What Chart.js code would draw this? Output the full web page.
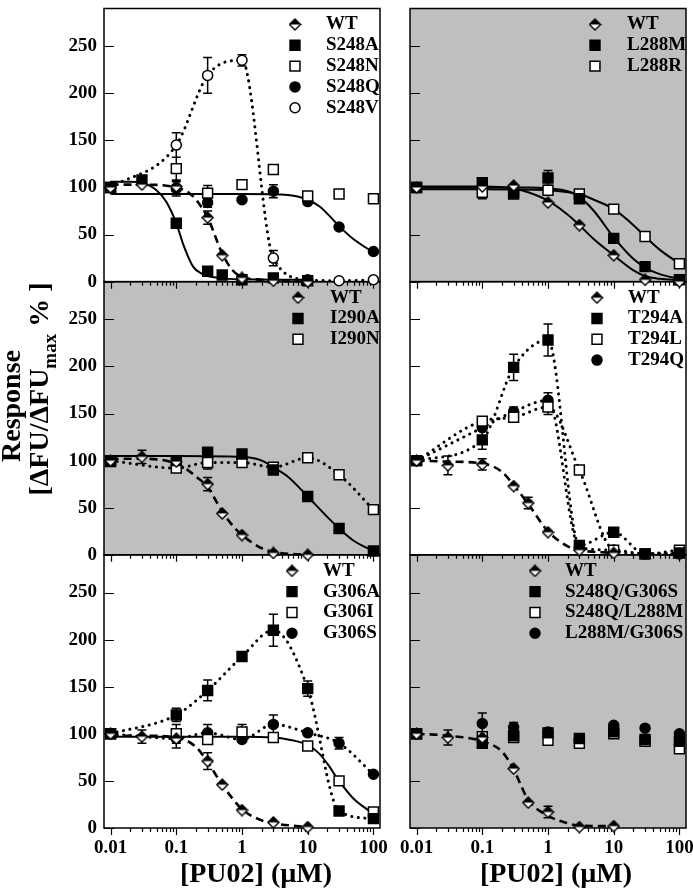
<!DOCTYPE html>
<html>
<head>
<meta charset="utf-8">
<title>PU02 concentration response</title>
<script src="https://cdn.jsdelivr.net/npm/chart.js@4.4.1/dist/chart.umd.min.js"></script>
<style>
  html, body { margin: 0; padding: 0; background: #fff; }
  #figure { position: relative; width: 693px; height: 890px; overflow: hidden; }
  #figure canvas { position: absolute; top: 0; }
  #leftCol { left: 0; }
  #rightCol { left: 400px; }
</style>
</head>
<body>
<div id="figure">
  <canvas id="leftCol" width="392" height="890"></canvas>
  <canvas id="rightCol" width="310" height="890"></canvas>
</div>
<script>
// Axes
const X_MIN = Math.pow(10, -2.1);
const X_MAX = Math.pow(10, 2.1);
const Y_MAX = 290;
const xTickLabels = [0.01, 0.1, 1, 10, 100];
const yTickValues = [0, 50, 100, 150, 200, 250];

// Concentrations (uM)
const concWT = [0.01, 0.03, 0.1, 0.3, 0.5, 1, 3, 10];
const conc = [0.01, 0.1, 0.3, 1, 3, 10, 30, 100];
const concS248A = [0.01, 0.03, 0.1, 0.3, 0.5, 1, 3, 10];

// Panel 1: S248 mutants
const p1WT = [100, 103, 101, 68, 28, 4, 1, 0];
const p1WTErr = [0, 0, 5, 7, 0, 0, 0, 0];
const p1S248A = [100, 108, 62, 11, 7, 2, 4, 1];
const p1S248AErr = [5, 0, 0, 0, 0, 0, 0, 0];
const p1S248N = [100, 120, 94, 103, 119, 91, 93, 88];
const p1S248NErr = [0, 12, 8, 0, 0, 0, 4, 0];
const p1S248Q = [100, 99, 84, 87, 96, 85, 58, 32];
const p1S248QErr = [0, 8, 5, 0, 7, 0, 0, 0];
const p1S248V = [100, 145, 219, 235, 25, 2, 1, 2];
const p1S248VErr = [0, 13, 19, 6, 8, 0, 0, 0];
const fitX1WT = [0.01, 0.03, 0.1, 0.15, 0.2, 0.3, 0.5, 0.7, 1, 2, 3, 10];
const fitY1WT = [103, 103, 100, 95, 87, 68, 30, 13, 5, 2, 1, 0];
const fitX1A = [0.01, 0.02, 0.03, 0.05, 0.07, 0.1, 0.13, 0.18, 0.25, 0.3, 0.5, 1, 3, 10];
const fitY1A = [106, 106, 105, 97, 85, 62, 38, 16, 8, 6, 3.5, 2.5, 2, 2];
const fitX1Q = [0.01, 1, 3, 5, 7, 10, 15, 20, 30, 50, 100];
const fitY1Q = [93, 93, 92.8, 92, 90.5, 87, 80, 72, 59, 45, 31];

// Panel 2: L288 mutants
const p2WT = [100, 101, 102, 84, 60, 28, 2, 0];
const p2L288M = [100, 105, 93, 110, 88, 46, 16, 2];
const p2L288MErr = [0, 0, 4, 8, 0, 0, 0, 0];
const p2L288R = [100, 95, 95, 97, 93, 77, 48, 19];
const p2L288RErr = [0, 7, 0, 0, 0, 0, 0, 0];
const fitX2WT = [0.01, 0.1, 0.3, 0.5, 1, 2, 3, 5, 10, 20, 30, 50, 100];
const fitY2WT = [101, 101, 99, 95, 86, 71, 60, 45, 28, 12, 6, 3, 1.5];
const fitX2M = [0.01, 0.1, 0.5, 1, 2, 3, 5, 10, 20, 30, 50, 100];
const fitY2M = [100, 100, 100, 99, 96, 90, 75, 47, 24, 15, 8, 3];
const fitX2R = [0.01, 0.1, 1, 2, 3, 5, 10, 20, 30, 50, 100];
const fitY2R = [98, 98, 97, 95, 93, 87, 77, 60, 48, 34, 19];

// Panel 3: I290 mutants
const p3WT = [100, 104, 99, 75, 44, 21, 2, 0];
const p3WTErr = [0, 7, 5, 7, 0, 0, 0, 0];
const p3I290A = [99, 100, 109, 107, 90, 62, 28, 4];
const p3I290AErr = [0, 5, 0, 0, 0, 0, 0, 0];
const p3I290N = [100, 92, 98, 98, 93, 103, 85, 48];
const p3I290NErr = [0, 0, 7, 0, 0, 0, 0, 0];
const fitX3WT = [0.01, 0.03, 0.1, 0.15, 0.2, 0.3, 0.5, 0.7, 1, 2, 3, 10];
const fitY3WT = [102, 102, 97, 90, 83, 72, 46, 32, 21, 7, 3, 0];
const fitX3A = [0.01, 0.1, 1, 2, 3, 5, 10, 20, 30, 50, 100];
const fitY3A = [105, 105, 104, 100, 93, 83, 62, 40, 28, 15, 4];

// Panel 4: T294 mutants
const p4WT = [100, 95, 96, 73, 55, 24, 5, 2];
const p4WTErr = [0, 10, 6, 0, 6, 0, 0, 0];
const p4T294A = [100, 122, 199, 228, 10, 24, 1, 2];
const p4T294AErr = [0, 10, 14, 17, 0, 0, 0, 0];
const p4T294L = [100, 142, 146, 157, 90, 5, 1, 5];
const p4T294LErr = [0, 0, 5, 8, 0, 0, 0, 0];
const p4T294Q = [100, 135, 152, 164, 8, 5, 1, 1];
const p4T294QErr = [0, 0, 5, 8, 0, 0, 0, 0];
const fitX4WT = [0.01, 0.03, 0.1, 0.2, 0.3, 0.5, 1, 2, 3, 10];
const fitY4WT = [100, 99, 97, 88, 74, 54, 25, 9, 5, 2];

// Panel 5: G306 mutants
const p5WT = [100, 97, 95, 71, 46, 19, 6, 1];
const p5WTErr = [0, 7, 10, 9, 0, 0, 0, 0];
const p5G306A = [100, 120, 146, 182, 210, 148, 18, 10];
const p5G306AErr = [0, 7, 11, 0, 17, 8, 0, 0];
const p5G306I = [100, 100, 94, 102, 96, 87, 50, 17];
const p5G306IErr = [0, 10, 0, 8, 0, 0, 0, 0];
const p5G306S = [100, 95, 101, 94, 110, 101, 90, 57];
const p5G306SErr = [0, 0, 9, 0, 10, 0, 6, 0];
const fitX5WT = [0.01, 0.03, 0.1, 0.2, 0.3, 0.5, 1, 2, 3, 10];
const fitY5WT = [98, 98, 96, 86, 70, 46, 20, 8, 5, 1];
const fitX5I = [0.01, 0.1, 1, 3, 5, 10, 15, 20, 30, 50, 100];
const fitY5I = [97, 97, 97, 96, 94, 88, 79, 68, 50, 31, 15];

// Panel 6: double mutants
const p6WT = [100, 96, 96, 63, 27, 17, 1, 2];
const p6WTErr = [0, 8, 0, 0, 0, 6, 0, 0];
const p6QG = [100, 90, 98, 101, 95, 102, 94, 92];
const p6QM = [100, 97, 96, 93, 90, 100, 92, 84];
const p6MG = [100, 111, 107, 102, 94, 109, 106, 100];
const p6MGErr = [0, 11, 5, 0, 0, 0, 0, 0];
const fitX6WT = [0.01, 0.03, 0.1, 0.2, 0.3, 0.5, 1, 2, 3, 10];
const fitY6WT = [100, 98, 92, 81, 62, 30, 13, 5, 2.5, 2];

// Styling
const FONT = '"Liberation Serif", "Times New Roman", serif';
const GRAY = '#bfbfbf';
const PANELS = ['p0', 'p1', 'p2'];

Chart.defaults.font.family = FONT;
Chart.defaults.font.weight = 'bold';
Chart.defaults.color = '#000';

// half filled diamond used for WT
function makeDiamond(size) {
  const c = document.createElement('canvas');
  c.width = c.height = size;
  const g = c.getContext('2d');
  const h = size / 2, r = h - 1;
  const outline = () => {
    g.beginPath();
    g.moveTo(h, h - r); g.lineTo(h + r, h); g.lineTo(h, h + r); g.lineTo(h - r, h);
    g.closePath();
  };
  outline(); g.fillStyle = '#fff'; g.fill();
  g.beginPath(); g.moveTo(h, h - r); g.lineTo(h + r, h); g.lineTo(h - r, h); g.closePath();
  g.fillStyle = '#000'; g.fill();
  outline(); g.lineWidth = 1.4; g.strokeStyle = '#000'; g.stroke();
  return c;
}
const diamond = makeDiamond(13);

const MARKS = {
  wt:  { pointStyle: diamond, pointRadius: 6, pointBackgroundColor: '#fff', pointBorderColor: '#000', pointBorderWidth: 0 },
  sq:  { pointStyle: 'rect', pointRadius: 7, pointBackgroundColor: '#000', pointBorderColor: '#000', pointBorderWidth: 1.5 },
  osq: { pointStyle: 'rect', pointRadius: 7, pointBackgroundColor: '#fff', pointBorderColor: '#000', pointBorderWidth: 1.5 },
  ci:  { pointStyle: 'circle', pointRadius: 5, pointBackgroundColor: '#000', pointBorderColor: '#000', pointBorderWidth: 1.5 },
  oci: { pointStyle: 'circle', pointRadius: 5, pointBackgroundColor: '#fff', pointBorderColor: '#000', pointBorderWidth: 1.5 }
};

const LINES = {
  solid: { borderWidth: 2, borderDash: [] },
  dash:  { borderWidth: 2.6, borderDash: [8, 5] },
  dot:   { borderWidth: 3, borderDash: [0.1, 6.5], borderCapStyle: 'round' }
};

function pts(xs, ys) {
  return xs.map((x, i) => ({ x: x, y: ys[i] }));
}

function series(label, panel, xs, ys, errs, mark, line) {
  return Object.assign({
    label: label,
    yAxisID: panel,
    legend: true,
    errors: errs,
    data: pts(xs, ys),
    showLine: !!line,
    borderColor: '#000',
    fill: false,
    cubicInterpolationMode: 'monotone',
    clip: false,
    order: 0
  }, line ? LINES[line] : {}, MARKS[mark]);
}

function fitCurve(panel, xs, ys, line) {
  return Object.assign({
    label: '',
    yAxisID: panel,
    legend: false,
    data: pts(xs, ys),
    showLine: true,
    pointRadius: 0,
    borderColor: '#000',
    fill: false,
    cubicInterpolationMode: 'monotone',
    clip: false,
    order: 5
  }, LINES[line]);
}

// minor ticks 1..9 per decade between the labelled ones
const xAllTicks = [];
xTickLabels.forEach((v, i) => {
  xAllTicks.push({ value: v, major: true });
  if (i < xTickLabels.length - 1) {
    for (let m = 2; m <= 9; m++) xAllTicks.push({ value: v * m, major: false });
  }
});

function xAxis() {
  return {
    type: 'logarithmic',
    min: X_MIN,
    max: X_MAX,
    position: 'bottom',
    afterBuildTicks: s => { s.ticks = xAllTicks.map(t => ({ value: t.value, major: t.major })); },
    afterFit: s => { s.height = 62; s.paddingLeft = 0; s.paddingRight = 0; },
    ticks: {
      autoSkip: false,
      maxRotation: 0,
      minRotation: 0,
      padding: 9,
      font: { size: 19, weight: 'bold' },
      color: '#000',
      callback: (v, i, ticks) => ticks[i].major ? String(v) : ''
    },
    grid: { display: false, drawTicks: false },
    border: { display: false }
  };
}

function yAxis(weight, labels) {
  return {
    axis: 'y',
    type: 'linear',
    min: 0,
    max: Y_MAX,
    position: 'left',
    stack: 'column',
    stackWeight: 1,
    weight: weight,
    afterBuildTicks: s => { s.ticks = yTickValues.map(v => ({ value: v })); },
    afterFit: s => { s.width = labels ? 104 : 10; s.paddingTop = 0; s.paddingBottom = 0; },
    ticks: { display: labels, padding: 7, font: { size: 19, weight: 'bold' }, color: '#000' },
    grid: { display: false, drawTicks: false },
    border: { display: false }
  };
}

// gray panels, frames, inward ticks, error bars, legends, titles
function panelPlugin(cfg) {
  return {
    id: 'panels',
    beforeDraw(chart) {
      const { ctx, chartArea } = chart;
      ctx.save();
      PANELS.forEach((id, k) => {
        if (!cfg.gray[k]) return;
        const s = chart.scales[id];
        ctx.fillStyle = GRAY;
        ctx.fillRect(chartArea.left, s.top, chartArea.right - chartArea.left, s.bottom - s.top);
      });
      ctx.restore();
    },
    beforeDatasetsDraw(chart) {
      const { ctx, chartArea } = chart;
      const xs = chart.scales.x;
      ctx.save();
      ctx.strokeStyle = '#000';
      PANELS.forEach(id => {
        const s = chart.scales[id];
        ctx.lineWidth = 1.5;
        ctx.strokeRect(chartArea.left, s.top, chartArea.right - chartArea.left, s.bottom - s.top);
        ctx.lineWidth = 1.2;
        ctx.beginPath();
        s.ticks.forEach(t => {
          const y = Math.round(s.getPixelForValue(t.value)) + 0.5;
          ctx.moveTo(chartArea.left, y);
          ctx.lineTo(chartArea.left + 10, y);
        });
        xs.ticks.forEach(t => {
          const x = Math.round(xs.getPixelForValue(t.value)) + 0.5;
          ctx.moveTo(x, s.bottom);
          ctx.lineTo(x, s.bottom + (t.major ? 7 : 4));
        });
        ctx.stroke();
      });
      // error bars
      ctx.lineWidth = 1.5;
      ctx.beginPath();
      chart.data.datasets.forEach(ds => {
        if (!ds.errors) return;
        const ys = chart.scales[ds.yAxisID];
        ds.errors.forEach((e, j) => {
          if (!e) return;
          const p = ds.data[j];
          const x = xs.getPixelForValue(p.x);
          const y1 = ys.getPixelForValue(p.y + e);
          const y2 = ys.getPixelForValue(p.y - e);
          ctx.moveTo(x, y1); ctx.lineTo(x, y2);
          ctx.moveTo(x - 4.5, y1); ctx.lineTo(x + 4.5, y1);
          ctx.moveTo(x - 4.5, y2); ctx.lineTo(x + 4.5, y2);
        });
      });
      ctx.stroke();
      ctx.restore();
    },
    afterDraw(chart) {
      const { ctx } = chart;
      ctx.save();
      // legends
      PANELS.forEach((id, k) => {
        const s = chart.scales[id];
        const entries = chart.data.datasets.filter(ds => ds.legend && ds.yAxisID === id);
        entries.forEach((ds, i) => {
          const y = s.top + 16 + i * 20.8;
          ctx.fillStyle = ds.pointBackgroundColor;
          ctx.strokeStyle = '#000';
          ctx.lineWidth = ds.pointBorderWidth;
          Chart.helpers.drawPoint(ctx, {
            pointStyle: ds.pointStyle, radius: ds.pointRadius, rotation: 0, borderWidth: ds.pointBorderWidth
          }, cfg.legend[k].sym, y);
          ctx.fillStyle = '#000';
          ctx.font = 'bold 19px ' + FONT;
          ctx.textAlign = 'left';
          ctx.textBaseline = 'middle';
          ctx.fillText(ds.label, cfg.legend[k].text, y);
        });
      });
      // x title
      ctx.fillStyle = '#000';
      ctx.font = 'bold 28px ' + FONT;
      ctx.textAlign = 'center';
      ctx.textBaseline = 'middle';
      ctx.fillText('[PU02] (\u00b5M)', cfg.xTitleX, 875);
      ctx.restore();

      if (cfg.yTitle) {
        const big = 'bold 28px ' + FONT, small = 'bold 19px ' + FONT;
        ctx.save();
        ctx.fillStyle = '#000';
        ctx.textBaseline = 'alphabetic';
        ctx.translate(20, 406);
        ctx.rotate(-Math.PI / 2);
        ctx.font = big;
        ctx.textAlign = 'center';
        ctx.fillText('Response', 0, 0);
        ctx.restore();

        ctx.save();
        ctx.fillStyle = '#000';
        ctx.textBaseline = 'alphabetic';
        ctx.textAlign = 'left';
        ctx.translate(48, 389);
        ctx.rotate(-Math.PI / 2);
        const parts = [['[\u0394FU/\u0394FU', big, 0], ['max', small, 8], [' % ]', big, 0]];
        let total = 0;
        parts.forEach(p => { ctx.font = p[1]; p.w = ctx.measureText(p[0]).width; total += p.w; });
        let x = -total / 2;
        parts.forEach(p => { ctx.font = p[1]; ctx.fillText(p[0], x, p[2]); x += p.w; });
        ctx.restore();
      }
    }
  };
}

function makeColumn(canvasId, datasets, cfg) {
  return new Chart(document.getElementById(canvasId), {
    type: 'scatter',
    data: { datasets: datasets },
    options: {
      responsive: false,
      animation: false,
      events: [],
      devicePixelRatio: 1,
      layout: { padding: cfg.padding },
      plugins: { legend: { display: false }, tooltip: { enabled: false } },
      scales: {
        x: xAxis(),
        p0: yAxis(3, cfg.labels),
        p1: yAxis(2, cfg.labels),
        p2: yAxis(1, cfg.labels)
      }
    },
    plugins: [panelPlugin(cfg)]
  });
}

// Left column: S248, I290, G306
const leftSets = [
  series('WT', 'p0', concWT, p1WT, p1WTErr, 'wt'),
  series('S248A', 'p0', concS248A, p1S248A, p1S248AErr, 'sq'),
  series('S248N', 'p0', conc, p1S248N, p1S248NErr, 'osq'),
  series('S248Q', 'p0', conc, p1S248Q, p1S248QErr, 'ci'),
  series('S248V', 'p0', conc, p1S248V, p1S248VErr, 'oci', 'dot'),
  fitCurve('p0', fitX1WT, fitY1WT, 'dash'),
  fitCurve('p0', fitX1A, fitY1A, 'solid'),
  fitCurve('p0', fitX1Q, fitY1Q, 'solid'),

  series('WT', 'p1', concWT, p3WT, p3WTErr, 'wt'),
  series('I290A', 'p1', conc, p3I290A, p3I290AErr, 'sq'),
  series('I290N', 'p1', conc, p3I290N, p3I290NErr, 'osq', 'dot'),
  fitCurve('p1', fitX3WT, fitY3WT, 'dash'),
  fitCurve('p1', fitX3A, fitY3A, 'solid'),

  series('WT', 'p2', concWT, p5WT, p5WTErr, 'wt'),
  series('G306A', 'p2', conc, p5G306A, p5G306AErr, 'sq', 'dot'),
  series('G306I', 'p2', conc, p5G306I, p5G306IErr, 'osq'),
  series('G306S', 'p2', conc, p5G306S, p5G306SErr, 'ci', 'dot'),
  fitCurve('p2', fitX5WT, fitY5WT, 'dash'),
  fitCurve('p2', fitX5I, fitY5I, 'solid')
];

// Right column: L288, T294, double mutants
const rightSets = [
  series('WT', 'p0', conc, p2WT, null, 'wt'),
  series('L288M', 'p0', conc, p2L288M, p2L288MErr, 'sq'),
  series('L288R', 'p0', conc, p2L288R, p2L288RErr, 'osq'),
  fitCurve('p0', fitX2WT, fitY2WT, 'solid'),
  fitCurve('p0', fitX2M, fitY2M, 'solid'),
  fitCurve('p0', fitX2R, fitY2R, 'solid'),

  series('WT', 'p1', concWT, p4WT, p4WTErr, 'wt'),
  series('T294A', 'p1', conc, p4T294A, p4T294AErr, 'sq', 'dot'),
  series('T294L', 'p1', conc, p4T294L, p4T294LErr, 'osq', 'dot'),
  series('T294Q', 'p1', conc, p4T294Q, p4T294QErr, 'ci', 'dot'),
  fitCurve('p1', fitX4WT, fitY4WT, 'dash'),

  series('WT', 'p2', concWT, p6WT, p6WTErr, 'wt'),
  series('S248Q/G306S', 'p2', conc, p6QG, null, 'sq'),
  series('S248Q/L288M', 'p2', conc, p6QM, null, 'osq'),
  series('L288M/G306S', 'p2', conc, p6MG, p6MGErr, 'ci'),
  fitCurve('p2', fitX6WT, fitY6WT, 'dash')
];

makeColumn('leftCol', leftSets, {
  labels: true,
  padding: { top: 1, left: 0, right: 12, bottom: 0 },
  gray: [false, true, false],
  legend: [{ sym: 295, text: 326 }, { sym: 298, text: 330 }, { sym: 292, text: 323 }],
  xTitleX: 256,
  yTitle: true
});

makeColumn('rightCol', rightSets, {
  labels: false,
  padding: { top: 1, left: 0, right: 24, bottom: 0 },
  gray: [true, false, true],
  legend: [{ sym: 195, text: 227 }, { sym: 197, text: 228 }, { sym: 135, text: 165 }],
  xTitleX: 156,
  yTitle: false
});
</script>
</body>
</html>
